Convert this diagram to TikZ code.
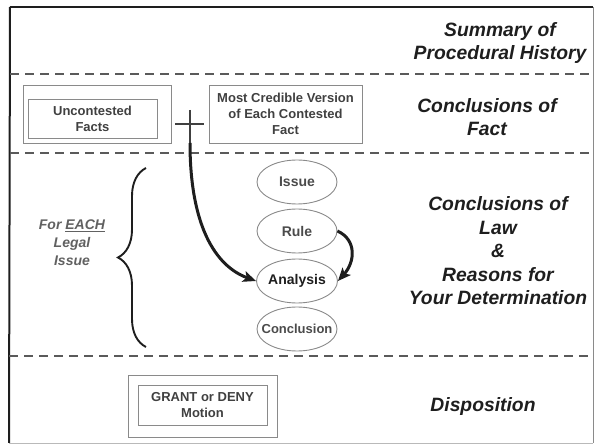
\documentclass[tikz,border=0pt]{standalone}
\usepackage{fontspec}
\setmainfont{Liberation Sans}
\usetikzlibrary{shapes.geometric,arrows.meta,decorations.pathreplacing}
\definecolor{ink}{HTML}{1E1E1E}
\definecolor{boxline}{HTML}{8A8A8A}
\definecolor{dashcol}{HTML}{5A5A5A}
\tikzset{
  heading/.style={font=\fontsize{19.3}{23.5}\selectfont\bfseries\itshape, text=ink, align=center, inner sep=0pt},
  boxtext/.style={font=\fontsize{13}{15.8}\selectfont\bfseries, text=ink!85, align=center},
  framebox/.style={draw=boxline, line width=0.9pt, inner sep=0pt},
  irac/.style={ellipse, draw=boxline, line width=0.9pt, minimum width=80pt, minimum height=44pt, inner sep=0pt},
  iractext/.style={inner sep=0pt, font=\fontsize{14}{16}\selectfont\bfseries, text=ink!80},
  sepline/.style={draw=dashcol, line width=1.6pt, dash pattern=on 9pt off 6pt},
  bigarrow/.style={draw=ink, line width=3pt, -{Stealth[length=13pt,width=11pt,inset=3pt]}},
}
\begin{document}
\begin{tikzpicture}[x=1pt,y=-1pt]
\useasboundingbox (0,0) rectangle (595,446);
% outer frame
\coordinate (tl) at (10,7);
\coordinate (tr) at (593,7);
\coordinate (bl) at (9,443);
\coordinate (br) at (593,443);
\draw[ink, line width=1.4pt] (tl) -- (tr);
\draw[ink, line width=2pt] (tl) -- (bl);
\draw[boxline, line width=0.9pt] (tr) -- (br);
\draw[boxline!60, line width=0.8pt] (bl) -- (br);
% separators
\coordinate (s1l) at (10,74);  \coordinate (s1r) at (593,74);
\coordinate (s2l) at (10,153); \coordinate (s2r) at (593,153);
\coordinate (s3l) at (9,356);  \coordinate (s3r) at (593,356);
\draw[sepline] (s1l) -- (s1r);
\draw[sepline] (s2l) -- (s2r);
\draw[sepline] (s3l) -- (s3r);
% headings
\node[heading] (h1) at (500,43) {Summary of\\Procedural History};
\node[heading] (h2) at (487,117) {Conclusions of\\Fact};
\node[heading] (h3) at (498,251) {Conclusions of\\Law\\\&\\Reasons for\\Your Determination};
\node[heading] (h4) at (483,407) {Disposition};
% fact boxes
\node[framebox, minimum width=148pt, minimum height=58pt] (ucout) at (97,114) {};
\node[framebox, boxtext, minimum width=129pt, minimum height=39pt] (uc) at (92.5,118.5) {Uncontested\\Facts};
\node[framebox, boxtext, minimum width=153pt, minimum height=58pt] (mc) at (285.5,114) {Most Credible Version\\of Each Contested\\Fact};
% plus sign
\coordinate (pl) at (175,124); \coordinate (pr) at (204,124);
\coordinate (pt) at (190,110); \coordinate (pb) at (190,143);
\draw[ink!85, line width=2.4pt] (pl) -- (pr);
\draw[ink!85, line width=2.4pt] (pt) -- (pb);
% IRAC ellipses
\node[irac, label={[iractext]center:Issue}] (issue) at (297,182) {};
\node[irac, label={[iractext]center:Rule}] (rule) at (297,231) {};
\node[irac, minimum width=81pt, label={[iractext, text=ink]center:Analysis}] (analysis) at (297,281) {};
\node[irac, label={[iractext, font=\fontsize{13}{15}\selectfont\bfseries]center:Conclusion}] (concl) at (297,329) {};
% arrows
\draw[bigarrow] (pb) .. controls (190,225) and (215,266) .. (analysis.west);
\draw[bigarrow] (rule.east) .. controls (357,240) and (355,262) .. (analysis.east);
% brace and label
\coordinate (bb) at (146,347);
\coordinate (bt) at (146,168);
\draw[ink, line width=1.9pt, decorate, decoration={brace, amplitude=28pt, aspect=0.5}] (bb) -- (bt);
\node[font=\fontsize{14}{18}\selectfont\bfseries\itshape, text=ink!70, align=center] (each) at (72,243) {For \underline{EACH}\\Legal\\Issue};
% disposition box
\node[framebox, minimum width=149pt, minimum height=62pt] (gdout) at (202.5,406) {};
\node[framebox, boxtext, minimum width=129pt, minimum height=40pt] (gd) at (202.5,405) {GRANT or DENY\\Motion};
\end{tikzpicture}
\end{document}
